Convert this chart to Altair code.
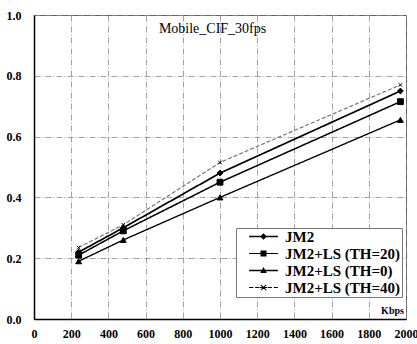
import altair as alt
import pandas as pd

series_names = ["JM2", "JM2+LS (TH=20)", "JM2+LS (TH=0)", "JM2+LS (TH=40)"]
kbps = [240, 480, 1000, 1970]
jm2 = [0.22, 0.30, 0.48, 0.75]
th20 = [0.21, 0.29, 0.45, 0.715]
th0 = [0.19, 0.26, 0.40, 0.655]
th40 = [0.235, 0.31, 0.515, 0.77]
x_ticks = [0, 200, 400, 600, 800, 1000, 1200, 1400, 1600, 1800, 2000]
y_ticks = [0.0, 0.2, 0.4, 0.6, 0.8, 1.0]
title_text = ["Mobile_CIF_30fps"]

rows = []
for name, vals in zip(series_names, [jm2, th20, th0, th40]):
    for k, v in zip(kbps, vals):
        rows.append({"series": name, "kbps": k, "value": v})
df = pd.DataFrame(rows)

FONT = "Liberation Serif"

line_colors = ["black", "black", "black", "#777777"]
line_widths = [1.7, 1.2, 1.6, 0.8]
line_dashes = [[1, 0], [1, 0], [1, 0], [4, 2]]
plot_shapes = ["diamond", "square", "triangle-up", "M-0.6,-0.6L0.6,0.6M-0.6,0.6L0.6,-0.6"]
# legend glyphs: a filled bar for the line plus the marker (all filled areas)
legend_shapes = [
    "M-2.4,-0.14H2.4V0.14H-2.4Z M0,-0.55L0.55,0L0,0.55L-0.55,0Z",
    "M-2.4,-0.1H2.4V0.1H-2.4Z M-0.5,-0.5H0.5V0.5H-0.5Z",
    "M-2.4,-0.13H2.4V0.13H-2.4Z M0,-0.6L0.55,0.4H-0.55Z",
    "M-2.4,-0.07H-1.7V0.07H-2.4Z M-1.4,-0.07H-0.7V0.07H-1.4Z "
    "M0.7,-0.07H1.4V0.07H0.7Z M1.7,-0.07H2.4V0.07H1.7Z "
    "M-0.6,-0.07H0.6V0.07H-0.6Z "
    "M-0.393,-0.507L0.507,0.393L0.393,0.507L-0.507,-0.393Z "
    "M-0.507,0.393L0.393,-0.507L0.507,-0.393L-0.393,0.507Z",
]
legend_fills = ["black", "black", "black", "#555555"]

xscale = alt.Scale(domain=[0, 2000], nice=False)
yscale = alt.Scale(domain=[0, 1.0], nice=False)

xaxis = alt.Axis(values=x_ticks, format="d", title="Kbps", titleX=358, titleY=-9,
                 titleAlign="center", titleBaseline="middle", titleFontSize=10,
                 labelOverlap=False, labelFlush=False)
yaxis = alt.Axis(values=y_ticks, format=".1f", title=None, labelPadding=13,
                 labelOverlap=False, labelFlush=False)

base = alt.Chart(df)

lines = base.mark_line().encode(
    x=alt.X("kbps:Q", scale=xscale, axis=xaxis),
    y=alt.Y("value:Q", scale=yscale, axis=yaxis),
    detail="series:N",
    color=alt.Color("series:N", scale=alt.Scale(domain=series_names, range=line_colors),
                    legend=None),
    strokeWidth=alt.StrokeWidth("series:N", scale=alt.Scale(domain=series_names,
                                range=line_widths), legend=None),
    strokeDash=alt.StrokeDash("series:N", scale=alt.Scale(domain=series_names,
                              range=line_dashes), legend=None),
)

points = base.mark_point(filled=True, fill="black", stroke="black", strokeWidth=1,
                         opacity=1, size=34).encode(
    x=alt.X("kbps:Q", scale=xscale, axis=xaxis),
    y=alt.Y("value:Q", scale=yscale, axis=yaxis),
    shape=alt.Shape("series:N", scale=alt.Scale(domain=series_names, range=plot_shapes),
                    legend=None),
)

leg = alt.Legend(title=None, orient="none", legendX=202, legendY=213)
legend_layer = base.transform_calculate(lg="datum.series").mark_point(
    filled=True, opacity=0, size=144
).encode(
    x=alt.X("kbps:Q", scale=xscale, axis=xaxis),
    y=alt.Y("value:Q", scale=yscale, axis=yaxis),
    shape=alt.Shape("lg:N", scale=alt.Scale(domain=series_names, range=legend_shapes),
                    legend=leg),
    fill=alt.Fill("lg:N", scale=alt.Scale(domain=series_names, range=legend_fills),
                  legend=leg),
)

title_df = pd.DataFrame({"t": title_text, "x": [960], "y": [0.94]})
title = alt.Chart(title_df).mark_text(font=FONT, fontSize=14, color="black",
                                      baseline="alphabetic", align="center").encode(
    x=alt.X("x:Q", scale=xscale, axis=xaxis), y=alt.Y("y:Q", scale=yscale, axis=yaxis),
    text="t:N")

chart = alt.layer(lines, points, legend_layer, title).resolve_scale(
    shape="independent"
).properties(
    width=372, height=304,
    autosize=alt.AutoSizeParams(type="none"),
    padding={"left": 34, "top": 15, "right": 11, "bottom": 25},
    background="white",
).configure_view(
    stroke="#555555", strokeWidth=1
).configure_axis(
    labelFont=FONT, labelFontSize=12, labelFontWeight="bold", labelColor="black",
    labelPadding=9, ticks=False, domainColor="black", domainWidth=1.5,
    titleFont=FONT, titleFontWeight="bold", titleColor="black",
    grid=True, gridColor="#8a8a8a", gridDash=[6, 2, 1, 2], gridWidth=0.8,
).configure_legend(
    symbolOpacity=1, symbolSize=144, symbolStrokeWidth=0,
    symbolOffset=19,
    labelFont=FONT, labelFontSize=15, labelFontWeight="bold", labelColor="black",
    labelOffset=14, rowPadding=1, padding=1,
    strokeColor="#777777", fillColor="white",
)

chart.save("out.html", embed_options={"renderer": "svg", "actions": False})
